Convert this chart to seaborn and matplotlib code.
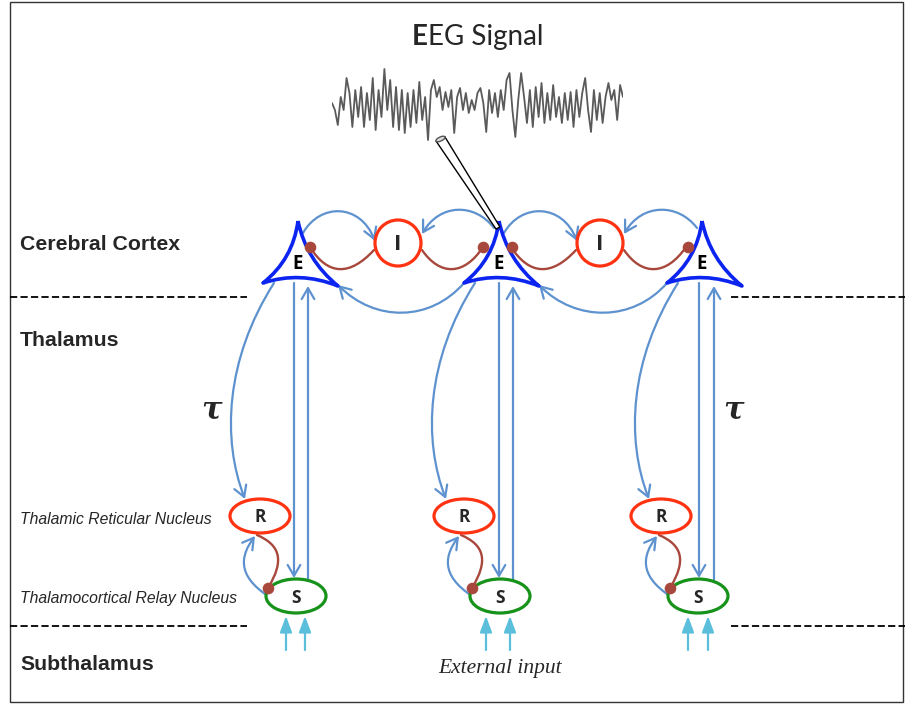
import matplotlib
matplotlib.use('Agg')
import matplotlib.pyplot as plt
import seaborn as sns
import numpy as np
from matplotlib.path import Path
from matplotlib.patches import FancyArrowPatch, PathPatch, Ellipse, Rectangle, Polygon

sns.set_style('white')

# EEG trace (pixel offsets about the baseline)
eeg_trace = [3, -4, -19, 9, -4, 28, 13, -21, 16, -11, 19, -21, 13, -14, 28, -24, 16, -11,
             37, -4, 26, -21, 19, -24, 16, -27, 13, -21, 16, -17, 24, -14, 9, -34, 16, 26,
             9, 19, -4, 14, -1, 16, -27, 9, 18, -4, 13, -7, 6, -4, 13, 18, 3, -26, 16, -7,
             13, -11, 16, -4, 26, 33, -4, -31, 6, 33, 9, -17, 16, -21, 19, -11, 23, -17, 13,
             -14, 21, -11, 9, -17, 13, -14, 14, -21, 16, -11, 13, 28, -4, -26, 16, -14, 13,
             -17, 9, 23, 6, 16, -14, 21, 9]

title_bold, title_rest = 'E', 'EG Signal'
layer_names = ['Cerebral Cortex', 'Thalamus', 'Subthalamus']
nucleus_names = ['Thalamic Reticular Nucleus', 'Thalamocortical Relay Nucleus']
input_label = 'External input'
delay_symbol = 'τ'

# layout (pixels)
e_x = [297, 498, 701]
i_x = [398, 600]
r_x = [260, 464, 661]
s_x = [296, 500, 698]
down_x = [294, 499, 699]
up_x = [308, 513, 714]
ext_x = [[286, 305], [486, 510], [688, 708]]

BLUE_E = '#0c24f0'
LINK = '#5e92cf'
RED = '#ff3311'
GREEN = '#17921a'
BROWN = '#a8473c'
CYAN = '#5bbfdb'
HEAD = '->,head_length=0.6,head_width=0.35'

fig = plt.figure(figsize=(9.05, 7.06), dpi=100)
ax = fig.add_axes([0, 0, 1, 1])
ax.set_xlim(0, 905)
ax.set_ylim(706, 0)
ax.axis('off')

ax.add_patch(Rectangle((10, 2), 893, 700, fill=False, lw=1.0, ec='#333333'))


def bez(pts, color=LINK, lw=1.6, arrow=True, z=2):
    path = Path(pts, [Path.MOVETO, Path.CURVE4, Path.CURVE4, Path.CURVE4])
    style = HEAD if arrow else '-'
    ax.add_patch(FancyArrowPatch(path=path, arrowstyle=style, mutation_scale=13,
                                 color=color, lw=lw, capstyle='round', zorder=z))


def straight(x0, y0, x1, y1, color=LINK, lw=1.6, style=HEAD, ms=13):
    ax.add_patch(FancyArrowPatch((x0, y0), (x1, y1), arrowstyle=style, mutation_scale=ms,
                                 color=color, lw=lw, shrinkA=0, shrinkB=0, zorder=2))


def cortex_cell(cx):
    T = np.array([cx + 1, 221.0])
    BL = np.array([cx - 34, 283.0])
    BR = np.array([cx + 41, 286.0])
    G = (T + BL + BR) / 3

    def ctrl(a, b):
        m = (a + b) / 2
        return m + 0.65 * (G - m)
    verts = [T, ctrl(T, BL), BL, ctrl(BL, BR), BR, ctrl(BR, T), T]
    codes = [Path.MOVETO] + [Path.CURVE3] * 6
    ax.add_patch(PathPatch(Path(verts, codes), fc='white', ec=BLUE_E, lw=2.6,
                           joinstyle='round', zorder=4))
    ax.text(cx + 1, 264, 'E', ha='center', va='center', fontsize=13.5,
            fontweight='bold', family='Open Sans', color='black', zorder=6)


# dashed layer boundaries
for yy in [297, 626]:
    for xa, xb in [(10, 247), (731, 905)]:
        ax.plot([xa, xb], [yy, yy], color='black', lw=1.3, ls=(0, (4, 1.8)), zorder=1)

# E -> I arcs
for k, ix in enumerate(i_x):
    cl, cr = e_x[k], e_x[k + 1]
    bez([(cl + 6, 233), (cl + 23, 203), (ix - 38, 203), (ix - 23, 241)])
    bez([(cr - 4, 228), (cr - 23, 203), (ix + 42, 203), (ix + 24, 234)])
    # inhibitory I -> E
    bez([(ix - 24, 250), (ix - 48, 276), (ix - 70, 276), (cl + 13, 247)], color=BROWN,
        lw=1.7, arrow=False)
    bez([(ix + 24, 250), (ix + 42, 276), (ix + 66, 276), (cr - 15, 247)], color=BROWN,
        lw=1.7, arrow=False)

# long arcs between neighbouring E cells
for k in range(2):
    cl, cr = e_x[k], e_x[k + 1]
    bez([(cr - 34, 283), (cr - 68, 322), (cl + 78, 322), (cl + 41, 285)])

# thalamo-cortical loops
for k, cx in enumerate(e_x):
    bez([(cx - 23, 283), (cx - 72, 360), (cx - 75, 440), (cx - 52, 499)])
    straight(down_x[k], 283, down_x[k], 578)
    straight(up_x[k], 581, up_x[k], 286)
    sx, rx = s_x[k], r_x[k]
    bez([(sx - 28, 596), (sx - 60, 575), (sx - 55, 555), (sx - 41, 536)])
    bez([(sx - 28, 588), (sx - 11, 560), (sx - 16, 545), (sx - 39, 535)], color=BROWN,
        lw=1.7, arrow=False)
    for xx in ext_x[k]:
        straight(xx, 650, xx, 616, color=CYAN, lw=1.6,
                 style='-|>,head_length=0.8,head_width=0.3', ms=12)

# nodes
for ix in i_x:
    ax.add_patch(Ellipse((ix, 243), 46, 46, fc='white', ec=RED, lw=2.3, zorder=4))
    ax.text(ix, 244, 'I', ha='center', va='center', fontsize=16, fontweight='bold',
            family='Open Sans', zorder=6)
for rx in r_x:
    ax.add_patch(Ellipse((rx, 516), 60, 34, fc='white', ec=RED, lw=2.3, zorder=4))
    ax.text(rx, 517, 'R', ha='center', va='center', fontsize=12.5, fontweight='bold',
            family='Open Sans', zorder=6)
for sx in s_x:
    ax.add_patch(Ellipse((sx, 596), 60, 34, fc='white', ec=GREEN, lw=2.3, zorder=4))
    ax.text(sx, 598, 'S', ha='center', va='center', fontsize=12.5, fontweight='bold',
            family='Open Sans', zorder=6)
for cx in e_x:
    cortex_cell(cx)

# synapse dots
dots_x = [e_x[0] + 13, e_x[1] - 15, e_x[1] + 14, e_x[2] - 13] + [s - 28 for s in s_x]
dots_y = [247] * 4 + [588] * 3
ax.scatter(dots_x, dots_y, s=70, color=BROWN, zorder=7, linewidths=0)

# electrode
ax.add_patch(Polygon([(436, 141), (445, 137), (500, 227), (496, 229)], closed=True,
                     fc='white', ec='black', lw=1.0, zorder=8))
ax.add_patch(Ellipse((440.5, 139), 10, 4, angle=-25, fc='#dddddd', ec='#555555',
                     lw=1.0, zorder=9))

# EEG trace
eax = fig.add_axes([332 / 905, 1 - 146 / 706, 291 / 905, 80 / 706])
sns.lineplot(x=np.arange(len(eeg_trace)), y=eeg_trace, ax=eax, color='#5a5a5a', lw=1.3)
eax.set_xlim(0, len(eeg_trace) - 1)
eax.set_ylim(-40, 40)
eax.axis('off')

# text
ax.text(428, 37, title_bold, ha='right', va='center', fontsize=20, fontweight='bold',
        family='Lato')
ax.text(428, 37, title_rest, ha='left', va='center', fontsize=20, family='Lato')
for name, yy in zip(layer_names, [244, 341, 665]):
    ax.text(20, yy, name, ha='left', va='center', fontsize=15.3, fontweight='bold',
            family='Liberation Sans')
for name, yy in zip(nucleus_names, [519, 598]):
    ax.text(20, yy, name, ha='left', va='center', fontsize=11.3, style='italic',
            family='Liberation Sans')
ax.text(500, 669, input_label, ha='center', va='center', fontsize=15.5, style='italic',
        family='Liberation Serif')
for xx in [211, 733]:
    ax.text(xx, 410, delay_symbol, ha='center', va='center', fontsize=22, style='italic',
            fontweight='bold', family='DejaVu Serif')

fig.savefig('out.png', dpi=100)
